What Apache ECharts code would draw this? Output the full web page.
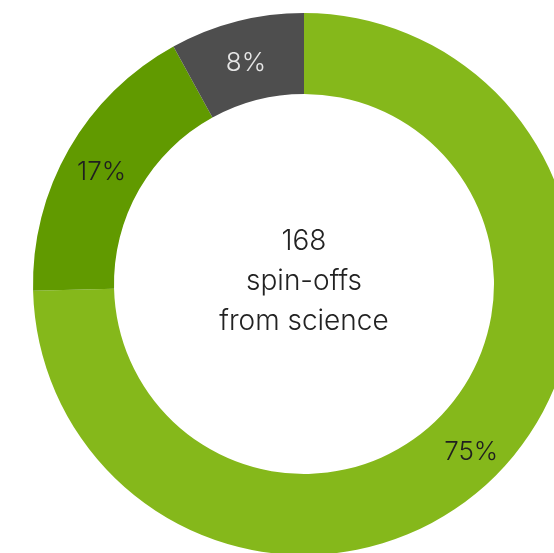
<!DOCTYPE html>
<html>
<head>
<meta charset="utf-8">
<script src="https://cdn.jsdelivr.net/npm/echarts@6/dist/echarts.min.js"></script>
<style>
html,body{margin:0;padding:0;background:#fff;}
#chart{width:554px;height:553px;}
</style>
</head>
<body>
<div id="chart"></div>
<script>
var categories = ['Share A', 'Share B', 'Share C'];
var values = [74.6, 17.4, 8.0];
var colors = ['#85b81b', '#619a00', '#4e4e4e'];
var labelColors = ['#1f1f1f', '#1f1f1f', '#e6e6e6'];
var centerLines = ['168', 'spin-offs', 'from science'];

var chart = echarts.init(document.getElementById('chart'), null, {renderer: 'canvas'});
var data = categories.map(function (c, i) {
  return {
    name: c,
    value: values[i],
    itemStyle: {color: colors[i]},
    label: {color: labelColors[i]}
  };
});
chart.setOption({
  animation: false,
  series: [{
    type: 'pie',
    center: [304, 284],
    radius: [190, 271],
    startAngle: 90,
    clockwise: true,
    avoidLabelOverlap: false,
    silent: true,
    label: {
      show: true,
      position: 'inside',
      fontFamily: 'Inter',
      fontWeight: 300,
      fontSize: 26,
      offset: [0, 5],
      formatter: function (p) { return Math.round(p.value) + '%'; }
    },
    labelLine: {show: false},
    data: data
  }],
  graphic: [{
    type: 'text',
    x: 304,
    y: 282,
    style: {
      text: centerLines.join('\n'),
      fontFamily: 'Inter',
      fontWeight: 300,
      fontSize: 28,
      lineHeight: 40,
      fill: '#222',
      align: 'center',
      verticalAlign: 'middle'
    }
  }]
});
</script>
</body>
</html>
